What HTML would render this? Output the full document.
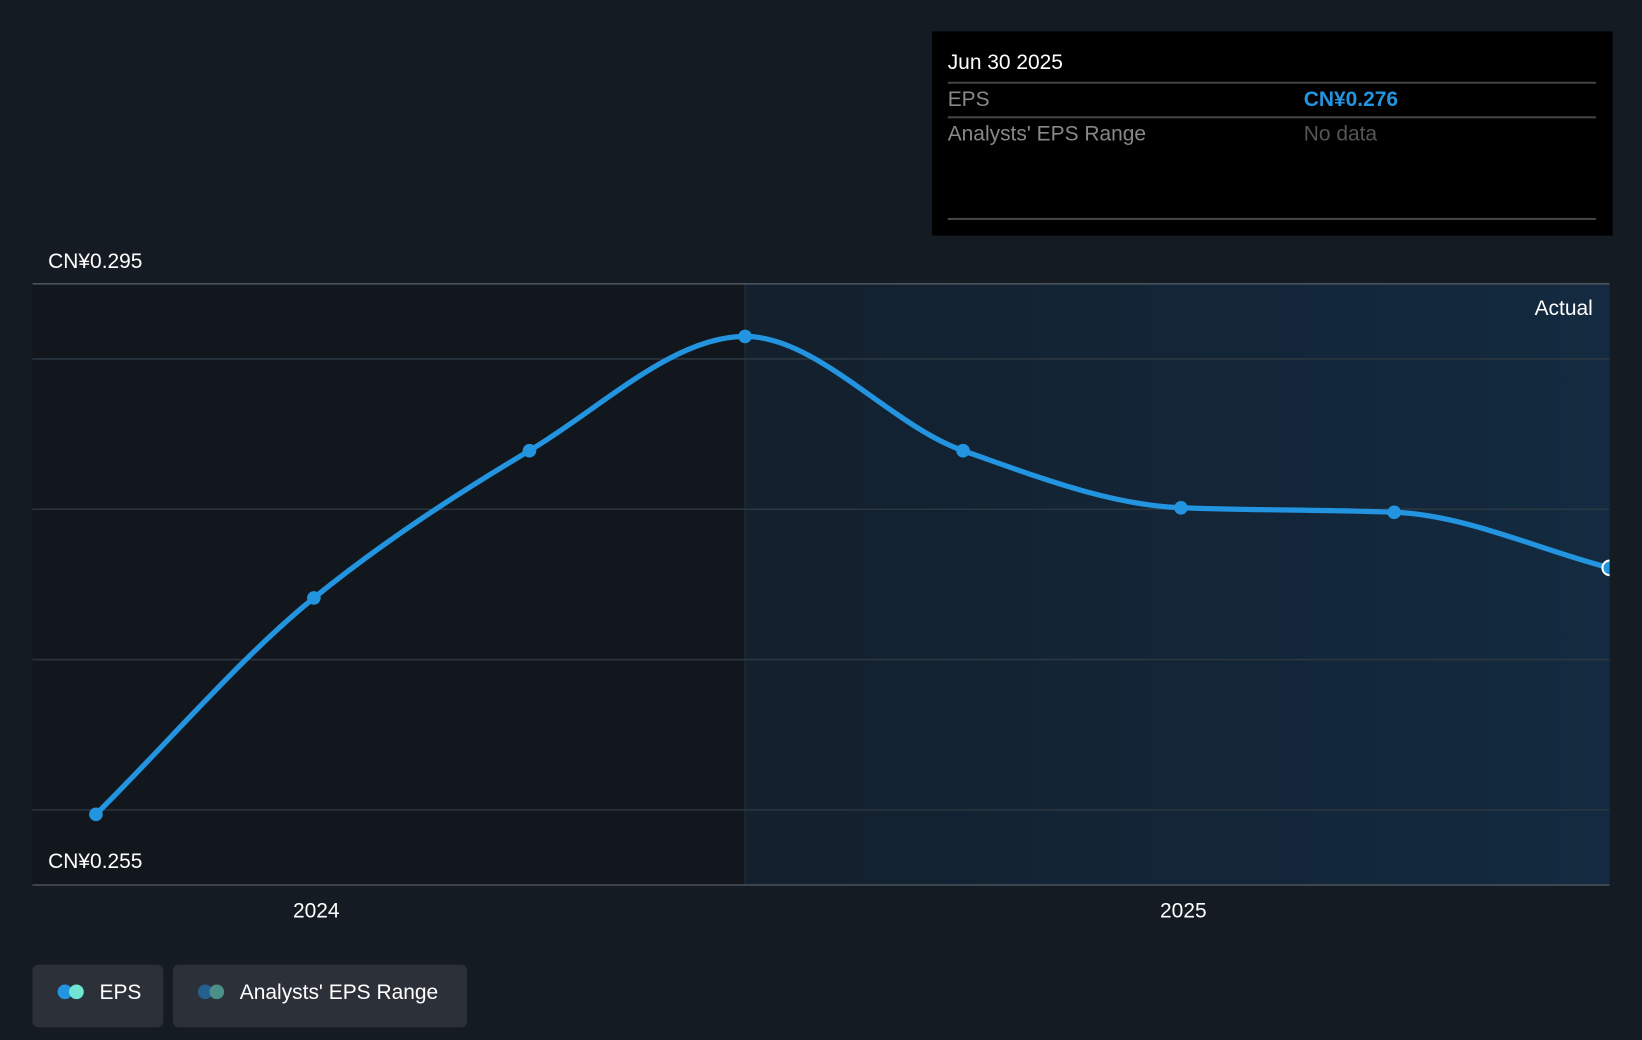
<!DOCTYPE html>
<html><head><meta charset="utf-8"><style>
html,body{margin:0;padding:0;background:#151b23;width:1642px;height:1040px;overflow:hidden}
svg{display:block;font-family:"Liberation Sans","Noto Sans CJK SC",sans-serif}
</style></head><body>
<svg id="chart" width="1642" height="1040" viewBox="0 0 1568 993" preserveAspectRatio="none" xmlns="http://www.w3.org/2000/svg">
<defs>
<linearGradient id="fg" x1="0" x2="1" y1="0" y2="0"><stop offset="0" stop-color="#13202d"/><stop offset="1" stop-color="#132a40"/></linearGradient>
<clipPath id="pc"><rect x="31" y="260" width="1506" height="600"/></clipPath>
</defs>
<rect width="1568" height="993" fill="#151b23"/>
<g id="plot"></g>
<g>
<rect x="890" y="30" width="650" height="195" fill="#000"/>
<text x="905" y="66" fill="#fff" font-size="20">Jun 30 2025</text>
<line x1="905" x2="1524" y1="79" y2="79" stroke="#444" stroke-width="2"/>
<text x="905" y="101" fill="#888" font-size="20">EPS</text>
<text x="1245" y="101" fill="#2394e0" font-size="20" font-weight="bold">CN¥0.276</text>
<line x1="905" x2="1524" y1="112" y2="112" stroke="#444" stroke-width="2"/>
<text x="905" y="134" fill="#888" font-size="20">Analysts' EPS Range</text>
<text x="1245" y="134" fill="#555" font-size="20">No data</text>
<line x1="905" x2="1524" y1="209" y2="209" stroke="#444" stroke-width="2"/>
</g>
<g>
<g>
<rect x="31" y="921" width="125" height="60" rx="6" fill="#2c3039"/>
<circle cx="62" cy="947" r="7" fill="#2394e0"/><circle cx="73" cy="947" r="7" fill="#6ee6d3"/>
<text x="95" y="954" fill="#fff" font-size="20">EPS</text>
</g>
<g>
<rect x="165" y="921" width="281" height="60" rx="6" fill="#2c3039"/>
<circle cx="196" cy="947" r="7" fill="#245f8d"/><circle cx="207" cy="947" r="7" fill="#4a8f88"/>
<text x="229" y="954" fill="#fff" font-size="20">Analysts' EPS Range</text>
</g>
</g>
</svg>
<script>
const dates=["2023-09-30","2023-12-31","2024-03-31","2024-06-30","2024-09-30","2024-12-31","2025-03-31","2025-06-30"];
const epsValues=[0.2597,0.2741,0.2839,0.2915,0.2839,0.2801,0.2798,0.2761];
const yTicks=[0.26,0.27,0.28,0.29];
const yLabels=["CN¥0.295","CN¥0.255"];
const xTicks=["2024-01-01","2025-01-01"];
const xTickLabels=["2024","2025"];
const NS="http://www.w3.org/2000/svg";
const x0=31,x1=1537,yTop=271,yBot=845;
const t24=Date.parse("2024-01-01"),t25=Date.parse("2025-01-01");
function xs(d){return 302+(Date.parse(d)-t24)/(t25-t24)*828;}
function ys(v){return yTop+(0.295-v)/0.04*(yBot-yTop);}
const g=document.getElementById('plot');
function mk(tag,attrs,parent){const e=document.createElementNS(NS,tag);for(const k in attrs)e.setAttribute(k,attrs[k]);(parent||g).appendChild(e);return e;}
const split=xs("2024-06-30");
let r=mk('rect',{x:x0,y:yTop,width:split-x0,height:yBot-yTop,fill:'#12171e'});


r=mk('rect',{x:split,y:yTop,width:x1-split,height:yBot-yTop,fill:'url(#fg)'});


let l=mk('line',{x1:split,x2:split,y1:yTop,y2:yBot,stroke:'#22303c','stroke-width':1});


yTicks.forEach(v=>{const e=mk('line',{x1:x0,x2:x1,y1:ys(v),y2:ys(v),stroke:'#2b3640','stroke-width':1.5});

});
[yTop,yBot].forEach(y=>{const e=mk('line',{x1:x0,x2:x1,y1:y,y2:y,stroke:'#4a525c','stroke-width':1.5});

});
let t=mk('text',{x:46,y:256,fill:'#fff','font-size':20});t.textContent=yLabels[0];


t=mk('text',{x:46,y:829,fill:'#fff','font-size':20});t.textContent=yLabels[1];


t=mk('text',{x:1521,y:301,fill:'#fff','font-size':20,'text-anchor':'end'});t.textContent="Actual";


xTicks.forEach((d,i)=>{const e=mk('text',{x:xs(d),y:876,fill:'#fff','font-size':20,'text-anchor':'middle'});e.textContent=xTickLabels[i];

});
const sg=mk('g',{'clip-path':'url(#pc)'});


const P=dates.map((d,i)=>[xs(d),ys(epsValues[i])]);
const n=P.length,m=[],dl=[];
for(let i=0;i<n-1;i++)dl.push((P[i+1][1]-P[i][1])/(P[i+1][0]-P[i][0]));
for(let i=0;i<n;i++){if(i==0)m.push(dl[0]);else if(i==n-1)m.push(dl[n-2]);else{if(dl[i-1]*dl[i]<=0)m.push(0);else{const h0=P[i][0]-P[i-1][0],h1=P[i+1][0]-P[i][0];m.push(3*(h0+h1)/((2*h1+h0)/dl[i-1]+(h1+2*h0)/dl[i]));}}}
let d="M"+P[0][0]+","+P[0][1];
for(let i=0;i<n-1;i++){const h=(P[i+1][0]-P[i][0])/3;d+=` C${P[i][0]+h},${P[i][1]+m[i]*h} ${P[i+1][0]-h},${P[i+1][1]-m[i+1]*h} ${P[i+1][0]},${P[i+1][1]}`;}
const path=mk('path',{d:d,fill:'none',stroke:'#2394e0','stroke-width':5,'stroke-linecap':'round'},sg);


P.forEach((p,i)=>{const last=i==n-1;const c=mk('circle',{cx:p[0],cy:p[1],r:last?7:6.5,fill:'#2394e0',stroke:last?'#fff':'none','stroke-width':2},sg);

});
</script>
</body></html>
